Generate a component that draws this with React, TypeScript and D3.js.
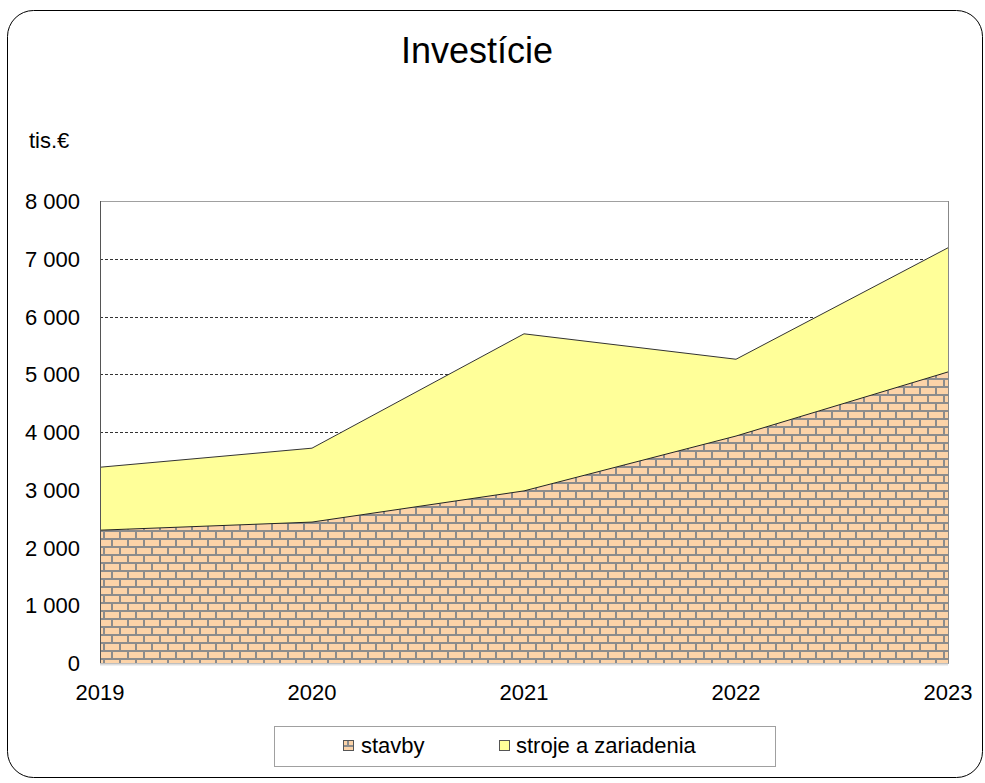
import React from 'react';
import * as d3 from 'd3';

const years = ['2019', '2020', '2021', '2022', '2023'];
const stavby = [2300, 2440, 2980, 3930, 5040];
const stroje = [1090, 1280, 2720, 1330, 2150];
const yTicks = [0, 1000, 2000, 3000, 4000, 5000, 6000, 7000, 8000];
const seriesNames = ['stavby', 'stroje a zariadenia'];

const W = 985;
const H = 783;
const margin = { left: 100, right: 37, top: 201, bottom: 120 };
const font = '"Liberation Sans", Arial, sans-serif';

function App() {
  const innerW = W - margin.left - margin.right;
  const innerH = H - margin.top - margin.bottom;

  const x = d3.scalePoint().domain(years).range([0, innerW]);
  const y = d3.scaleLinear().domain([0, 8000]).range([innerH, 0]);

  const rows = years.map((yr, i) => ({ year: yr, stavby: stavby[i], stroje: stroje[i] }));
  const stacked = d3.stack<any>().keys(['stavby', 'stroje'])(rows);

  const area = d3.area<any>()
    .x(d => x(d.data.year) as number)
    .y0(d => y(d[0]))
    .y1(d => y(d[1]));
  const topLine = d3.line<any>()
    .x(d => x(d.data.year) as number)
    .y(d => y(d[1]));

  const fmt = (v: number) => d3.format(',')(v).replace(',', ' ');

  return (
    <svg width={W} height={H} style={{ position: 'absolute', left: 0, top: 0, background: '#fff' }}>
      <defs>
        <pattern id="brick" patternUnits="userSpaceOnUse" width={16} height={16}
          x={margin.left} y={margin.top + 1}>
          <rect width={16} height={16} fill="#8c8c8c" />
          <rect x={1} y={1} width={14} height={6} fill="#fcd3a8" />
          <rect x={-7} y={9} width={14} height={6} fill="#fcd3a8" />
          <rect x={9} y={9} width={14} height={6} fill="#fcd3a8" />
        </pattern>
      </defs>

      <rect x={7.5} y={10.5} width={975} height={767} rx={26} fill="#fff" stroke="#000" strokeWidth={1} />

      <text x={477} y={63} textAnchor="middle" fontFamily={font} fontSize={36} fill="#000">Investície</text>
      <text x={29} y={148} fontFamily={font} fontSize={22} fill="#000">tis.€</text>

      <g transform={`translate(${margin.left},${margin.top})`}>
        <rect x={0.5} y={0.5} width={innerW} height={innerH} fill="#fff" stroke="#a0a0a0" />
        {yTicks.filter(t => t > 0 && t < 8000).map(t => (
          <line key={t} x1={0} x2={innerW} y1={Math.round(y(t)) + 0.5} y2={Math.round(y(t)) + 0.5}
            stroke="#333" strokeDasharray="3,2" strokeWidth={1} />
        ))}

        <path d={area(stacked[0] as any) || ''} fill="url(#brick)" />
        <path d={area(stacked[1] as any) || ''} fill="#ffff99" />
        <path d={topLine(stacked[0] as any) || ''} fill="none" stroke="#222" strokeWidth={1} />
        <path d={topLine(stacked[1] as any) || ''} fill="none" stroke="#333" strokeWidth={1} />

        <line x1={0.5} x2={0.5} y1={0} y2={innerH} stroke="#555" />
        <line x1={0} x2={innerW} y1={innerH + 1.5} y2={innerH + 1.5} stroke="#ddd" strokeWidth={2} />
        <line x1={innerW + 0.5} x2={innerW + 0.5} y1={0} y2={innerH} stroke="#888" />

        {yTicks.map(t => (
          <text key={t} x={-20} y={y(t) + 8} textAnchor="end" fontFamily={font} fontSize={22} fill="#000">{fmt(t)}</text>
        ))}
        {years.map(yr => (
          <text key={yr} x={x(yr) as number} y={innerH + 37} textAnchor="middle" fontFamily={font} fontSize={22} fill="#000">{yr}</text>
        ))}
      </g>

      <g>
        <rect x={274.5} y={726.5} width={501} height={40} fill="#fff" stroke="#a0a0a0" />
        <rect x={343.5} y={740.5} width={10} height={10} fill="url(#brick)" stroke="#555" />
        <text x={361} y={753} fontFamily={font} fontSize={22} fill="#000">{seriesNames[0]}</text>
        <rect x={499.5} y={740.5} width={10} height={10} fill="#ffff99" stroke="#555" />
        <text x={516} y={753} fontFamily={font} fontSize={22} fill="#000">{seriesNames[1]}</text>
      </g>
    </svg>
  );
}

export default App;
